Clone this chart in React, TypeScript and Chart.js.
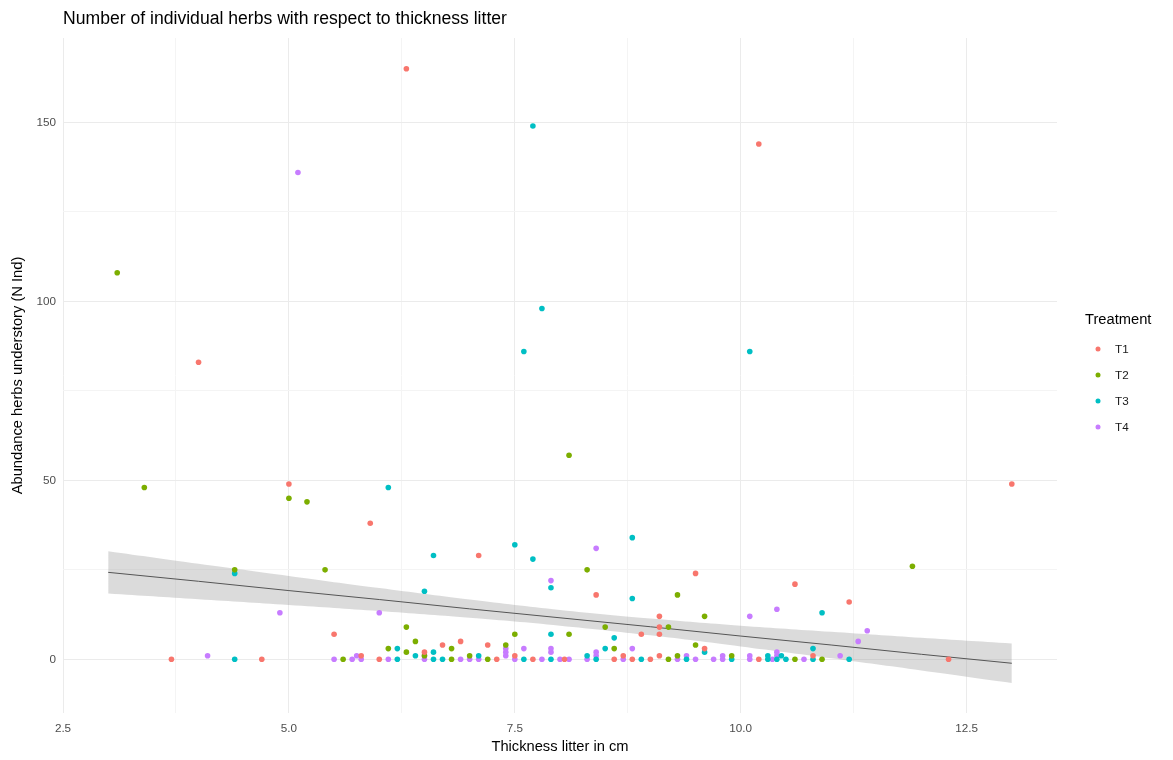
import React, { useEffect, useRef } from "react";
import { Chart, registerables } from "chart.js";

Chart.register(...registerables);

const TITLE = "Number of individual herbs with respect to thickness litter";
const X_TITLE = "Thickness litter in cm";
const Y_TITLE = "Abundance herbs understory (N Ind)";
const LEGEND_TITLE = "Treatment";
const treatments = ["T1", "T2", "T3", "T4"];
const colors = ["#F8766D", "#7CAE00", "#00BFC4", "#C77CFF"];

const xTickValues = [2.5, 3.75, 5, 6.25, 7.5, 8.75, 10, 11.25, 12.5];
const xMajor = [2.5, 5, 7.5, 10, 12.5];
const yTickValues = [0, 25, 50, 75, 100, 125, 150];
const yMajor = [0, 50, 100, 150];

// T1
const t1x = [6.3, 10.2, 4.0, 5.0, 13.0, 5.9, 7.1, 8.4, 9.5, 10.6, 11.2, 9.1, 9.1, 9.1, 8.9, 5.5, 3.7, 4.7, 12.3, 5.8, 6.0, 6.5, 6.7, 6.9, 7.2, 7.3, 7.5, 7.7, 8.05, 8.6, 8.7, 8.8, 9.0, 9.1, 9.6, 10.2, 10.8];
const t1y = [165, 144, 83, 49, 49, 38, 29, 18, 24, 21, 16, 12, 9, 7, 7, 7, 0, 0, 0, 1, 0, 2, 4, 5, 4, 0, 1, 0, 0, 0, 1, 0, 0, 1, 3, 0, 1];
// T2
const t2x = [3.1, 3.4, 5.0, 5.2, 5.4, 4.4, 8.1, 8.3, 9.3, 11.9, 9.6, 8.5, 6.3, 7.5, 8.1, 9.2, 6.4, 6.3, 6.1, 6.5, 5.6, 6.8, 6.8, 7.0, 7.2, 7.4, 8.6, 9.2, 9.3, 9.5, 9.9, 10.6, 10.9];
const t2y = [108, 48, 45, 44, 25, 25, 57, 25, 18, 26, 12, 9, 9, 7, 7, 9, 5, 2, 3, 1, 0, 3, 0, 1, 0, 4, 3, 0, 1, 4, 1, 0, 0];
// T3
const t3x = [7.7, 7.8, 7.6, 10.1, 6.1, 8.8, 7.5, 7.7, 6.6, 6.5, 7.9, 8.8, 10.9, 4.4, 4.4, 7.9, 8.6, 6.2, 6.2, 6.4, 6.6, 6.6, 6.7, 7.1, 7.6, 7.9, 8.3, 8.4, 8.5, 8.9, 9.4, 9.6, 9.9, 10.3, 10.3, 10.4, 10.45, 10.5, 10.8, 10.8, 11.2];
const t3y = [149, 98, 86, 86, 48, 34, 32, 28, 29, 19, 20, 17, 13, 24, 0, 7, 6, 3, 0, 1, 2, 0, 0, 1, 0, 0, 1, 0, 3, 0, 0, 2, 0, 1, 0, 0, 1, 0, 3, 0, 0];
// T4
const t4x = [5.1, 8.4, 7.9, 4.9, 6.0, 10.1, 10.4, 11.4, 11.3, 4.1, 5.5, 5.7, 5.75, 5.8, 6.1, 6.5, 6.5, 6.9, 7.0, 7.1, 7.4, 7.4, 7.4, 7.5, 7.6, 7.8, 7.9, 7.9, 8.0, 8.1, 8.3, 8.4, 8.4, 8.7, 8.8, 9.3, 9.4, 9.5, 9.7, 9.8, 9.8, 10.1, 10.1, 10.35, 10.4, 10.4, 10.7, 11.1];
const t4y = [136, 31, 22, 13, 13, 12, 14, 8, 5, 1, 0, 0, 1, 0, 0, 0, 1, 0, 0, 0, 1, 2, 3, 0, 3, 0, 2, 3, 0, 0, 0, 1, 2, 0, 3, 0, 1, 0, 0, 1, 0, 1, 0, 0, 1, 2, 0, 1];

// linear fit and confidence band
const smoothX = [3, 4, 5, 6, 7, 8, 9, 10, 11, 12, 13];
const smoothY = [24.3, 21.8, 19.2, 16.7, 14.1, 11.6, 9.1, 6.5, 4.0, 1.4, -1.1];
const bandUpper = [30.2, 26.7, 23.3, 19.9, 16.7, 13.8, 11.4, 9.4, 7.7, 6.0, 4.4];
const bandLower = [18.4, 16.8, 15.2, 13.5, 11.6, 9.4, 6.7, 3.6, 0.3, -3.1, -6.6];

const FONT = "'Liberation Sans', Arial, sans-serif";

const zip = (xs: number[], ys: number[]) => xs.map((x, i) => ({ x, y: ys[i] }));

export default function App() {
  const ref = useRef<HTMLCanvasElement | null>(null);
  useEffect(() => {
    if (!ref.current) return;
    const pointsX = [t1x, t2x, t3x, t4x];
    const pointsY = [t1y, t2y, t3y, t4y];

    const overlay = {
      id: "overlay",
      afterDraw(chart: any) {
        const ctx = chart.ctx;
        const area = chart.chartArea;
        ctx.save();
        ctx.fillStyle = "#000000";
        ctx.font = `17.6px ${FONT}`;
        ctx.textAlign = "left";
        ctx.textBaseline = "alphabetic";
        ctx.fillText(TITLE, area.left, 24);
        // legend
        ctx.font = `14.7px ${FONT}`;
        ctx.textBaseline = "middle";
        ctx.fillText(LEGEND_TITLE, 1085, 320);
        ctx.font = `11.7px ${FONT}`;
        treatments.forEach((t, i) => {
          const y = 349 + i * 26;
          ctx.fillStyle = colors[i];
          ctx.beginPath();
          ctx.arc(1098, y, 2.5, 0, Math.PI * 2);
          ctx.fill();
          ctx.fillStyle = "#1a1a1a";
          ctx.fillText(t, 1115, y + 1);
        });
        ctx.restore();
      },
    };

    const chart = new Chart(ref.current, {
      type: "scatter",
      data: {
        datasets: [
          ...treatments.map((t, i) => ({
            type: "scatter" as const,
            label: t,
            data: zip(pointsX[i], pointsY[i]),
            backgroundColor: colors[i],
            borderWidth: 0,
            pointRadius: 2.8,
            order: 0,
          })),
          {
            type: "line" as const,
            label: "fit",
            data: zip(smoothX, smoothY),
            borderColor: "#555555",
            borderWidth: 1,
            pointRadius: 0,
            fill: false,
            tension: 0,
            order: 1,
          },
          {
            type: "line" as const,
            label: "upper",
            data: zip(smoothX, bandUpper),
            borderWidth: 0,
            borderColor: "rgba(0,0,0,0)",
            backgroundColor: "rgba(153,153,153,0.35)",
            pointRadius: 0,
            fill: "+1",
            tension: 0.4,
            order: 2,
          },
          {
            type: "line" as const,
            label: "lower",
            data: zip(smoothX, bandLower),
            borderWidth: 0,
            borderColor: "rgba(0,0,0,0)",
            pointRadius: 0,
            fill: false,
            tension: 0.4,
            order: 3,
          },
        ],
      },
      options: {
        responsive: false,
        animation: false,
        devicePixelRatio: 1,
        events: [],
        layout: { padding: { top: 38, right: 116, left: 0, bottom: 0 } },
        plugins: {
          legend: { display: false },
          tooltip: { enabled: false },
          title: { display: false },
        },
        scales: {
          x: {
            type: "linear",
            min: 2.5,
            max: 13.5,
            afterBuildTicks: (scale: any) => {
              scale.ticks = xTickValues.map((v) => ({ value: v }));
            },
            afterFit: (scale: any) => {
              scale.height = 47;
            },
            border: { display: false },
            grid: {
              drawTicks: false,
              color: (c: any) => (c.tick && xMajor.includes(c.tick.value) ? "#ebebeb" : "#f4f4f4"),
              lineWidth: 1,
            },
            ticks: {
              padding: 9,
              color: "#4d4d4d",
              font: { family: FONT, size: 11.7 },
              maxRotation: 0,
              autoSkip: false,
              callback: (v: any) => (xMajor.includes(Number(v)) ? Number(v).toFixed(1) : ""),
            },
            title: {
              display: true,
              text: X_TITLE,
              color: "#000000",
              font: { family: FONT, size: 14.7 },
              padding: { top: 0, bottom: 4 },
            },
          },
          y: {
            type: "linear",
            min: -15,
            max: 173.6,
            afterBuildTicks: (scale: any) => {
              scale.ticks = yTickValues.map((v) => ({ value: v }));
            },
            afterFit: (scale: any) => {
              scale.width = 63;
            },
            border: { display: false },
            grid: {
              drawTicks: false,
              color: (c: any) => (c.tick && yMajor.includes(c.tick.value) ? "#ebebeb" : "#f4f4f4"),
              lineWidth: 1,
            },
            ticks: {
              padding: 7,
              color: "#4d4d4d",
              font: { family: FONT, size: 11.7 },
              autoSkip: false,
              callback: (v: any) => (yMajor.includes(Number(v)) ? String(v) : ""),
            },
            title: {
              display: true,
              text: Y_TITLE,
              color: "#000000",
              font: { family: FONT, size: 14.7 },
              padding: { top: 9, bottom: 0 },
            },
          },
        },
      } as any,
      plugins: [overlay],
    });
    return () => chart.destroy();
  }, []);

  return (
    <div style={{ position: "fixed", left: 0, top: 0, width: 1173, height: 760, background: "#ffffff" }}>
      <canvas ref={ref} width={1173} height={760} style={{ display: "block" }} />
    </div>
  );
}
